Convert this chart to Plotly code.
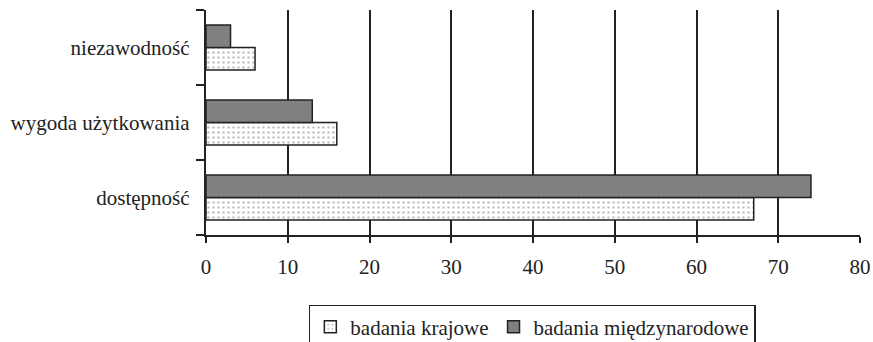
import plotly.graph_objects as go

categories = ["dostępność", "wygoda użytkowania", "niezawodność"]
krajowe = [67, 16, 6]
miedzynarodowe = [74, 13, 3]
x_ticks = [0, 10, 20, 30, 40, 50, 60, 70, 80]
grid_ticks = [10, 20, 30, 40, 50, 60, 70]

serif = "'Liberation Serif', 'Times New Roman', Times, serif"
font = dict(family=serif, size=21, color="#222")

fig = go.Figure()
fig.add_trace(go.Bar(
    y=categories, x=krajowe, orientation="h", name="badania krajowe",
    marker=dict(color="white", line=dict(color="#222", width=1.5),
                pattern=dict(shape=".", fgcolor="#888", bgcolor="white", size=5, solidity=0.22)),
))
fig.add_trace(go.Bar(
    y=categories, x=miedzynarodowe, orientation="h", name="badania międzynarodowe",
    marker=dict(color="#808080", line=dict(color="#222", width=1.5)),
))
fig.add_trace(go.Scatter(x=[None], y=[None], xaxis="x2", showlegend=False))

fig.update_layout(
    width=873, height=342,
    margin=dict(l=206, r=13, t=10, b=107, autoexpand=False),
    paper_bgcolor="white", plot_bgcolor="white",
    font=font,
    barmode="group", bargap=0.4, bargroupgap=0,
    xaxis=dict(range=[0, 80], tickvals=x_ticks, showgrid=False, zeroline=False,
               showline=True, linecolor="#222", linewidth=1.5, automargin=False,
               tickfont=font, ticklabelstandoff=6,
               ticks="outside", ticklen=6, tickcolor="#222", tickwidth=1.5),
    xaxis2=dict(range=[0, 80], overlaying="x", tickvals=grid_ticks, showgrid=True,
                gridcolor="#222", gridwidth=1.5, showticklabels=False, zeroline=False,
                showline=False, automargin=False),
    yaxis=dict(type="category", categoryorder="array", categoryarray=categories,
               range=[-0.5, 2.5], showline=True, linecolor="#222", linewidth=1.5,
               automargin=False, tickfont=font,
               ticks="outside", tickson="boundaries", ticklen=8, tickcolor="#222",
               tickwidth=1.5, showgrid=False, ticksuffix="  "),
    legend=dict(orientation="h", x=0.499, xanchor="center", y=-0.311, yanchor="top",
                bordercolor="#222", borderwidth=1.5,
                font=font, itemwidth=30, tracegroupgap=0),
)

fig.write_html("out.html", config={"displayModeBar": False},
               post_script="document.body.style.margin='0px';")
